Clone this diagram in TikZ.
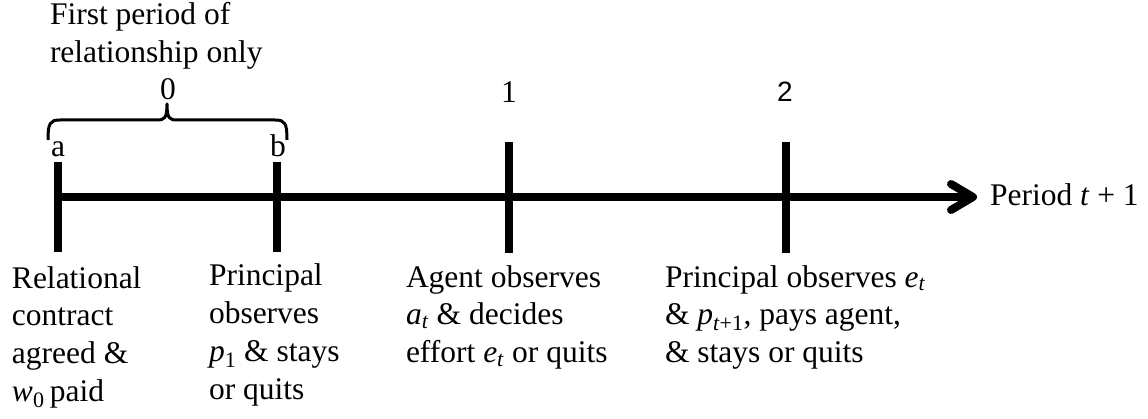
\documentclass[tikz,border=0pt]{standalone}
\usepackage{fontspec}
\setmainfont{Liberation Serif}
\newfontfamily\arialfont{Liberation Sans}
\usetikzlibrary{arrows.meta}
\tikzset{
  txt/.style={inner sep=0pt, outer sep=0pt, align=left, font=\fontsize{31.5}{37.7}\selectfont},
  lab/.style={inner sep=0pt, outer sep=0pt, font=\fontsize{31.5}{37.7}\selectfont},
  tickline/.style={line width=8pt},
  axisline/.style={line width=8pt, -{Straight Barb[length=22pt,width=26pt,line cap=round,line join=round]}},
  bracestyle/.style={line width=3pt, line join=round}
}
\begin{document}
\begin{tikzpicture}[x=1pt,y=-1pt]
\useasboundingbox (0,0) rectangle (1148,419);
% ticks
\coordinate (a1) at (58,162);  \coordinate (a2) at (58,252);
\coordinate (b1) at (277,162); \coordinate (b2) at (277,252);
\coordinate (c1) at (509,142); \coordinate (c2) at (509,253);
\coordinate (d1) at (786,142); \coordinate (d2) at (786,253);
\draw[tickline] (a1) -- (a2);
\draw[tickline] (b1) -- (b2);
\draw[tickline] (c1) -- (c2);
\draw[tickline] (d1) -- (d2);
% axis
\coordinate (start) at (58,197);
\coordinate (end) at (977,197);
\draw[axisline] (start) -- (end);
\node[lab, anchor=base west] (period) at (990,206) {Period \textit{t} + 1};
% brace
\coordinate (br1) at (48,140);
\coordinate (br2) at (287,140);
\coordinate (brm) at (167,104);
\draw[bracestyle] (br1) .. controls (48,123) and (50,120) .. (60,120) -- (157,120)
  .. controls (164,120) and (167,119) .. (brm)
  .. controls (167,119) and (170,120) .. (177,120) -- (275,120)
  .. controls (285,120) and (287,123) .. (br2);
% top labels (anchor = baseline of the last line)
\node[txt, anchor=base west] (first) at (50,62.7) {First period of\\relationship only};
\node[lab, anchor=base] (l0) at (168,100) {0};
\node[lab, anchor=base] (l1) at (509,103) {1};
\node[lab, anchor=base, font=\arialfont\fontsize{28}{30}\selectfont] (l2) at (785,102) {2};
\node[lab, anchor=base] (la) at (58,157) {a};
\node[lab, anchor=base] (lb) at (278,157) {b};
% bottom labels (anchor = baseline of the last line)
\node[txt, anchor=base west] (ev1) at (12,401.1) {Relational\\contract\\agreed \&\\\textit{w}\textsubscript{0}\,paid};
\node[txt, anchor=base west] (ev2) at (209,399) {Principal\\observes\\\textit{p}\textsubscript{1} \& stays\\or quits};
\node[txt, anchor=base west] (ev3) at (406,362.4) {Agent observes\\\textit{a}\textsubscript{\textit{t}} \& decides\\effort \textit{e}\textsubscript{\textit{t}} or quits};
\node[txt, anchor=base west] (ev4) at (665,362.4) {Principal observes \textit{e}\textsubscript{\textit{t}}\\\& \textit{p}\textsubscript{\textit{t}+1}, pays agent,\\\& stays or quits};
\end{tikzpicture}
\end{document}
